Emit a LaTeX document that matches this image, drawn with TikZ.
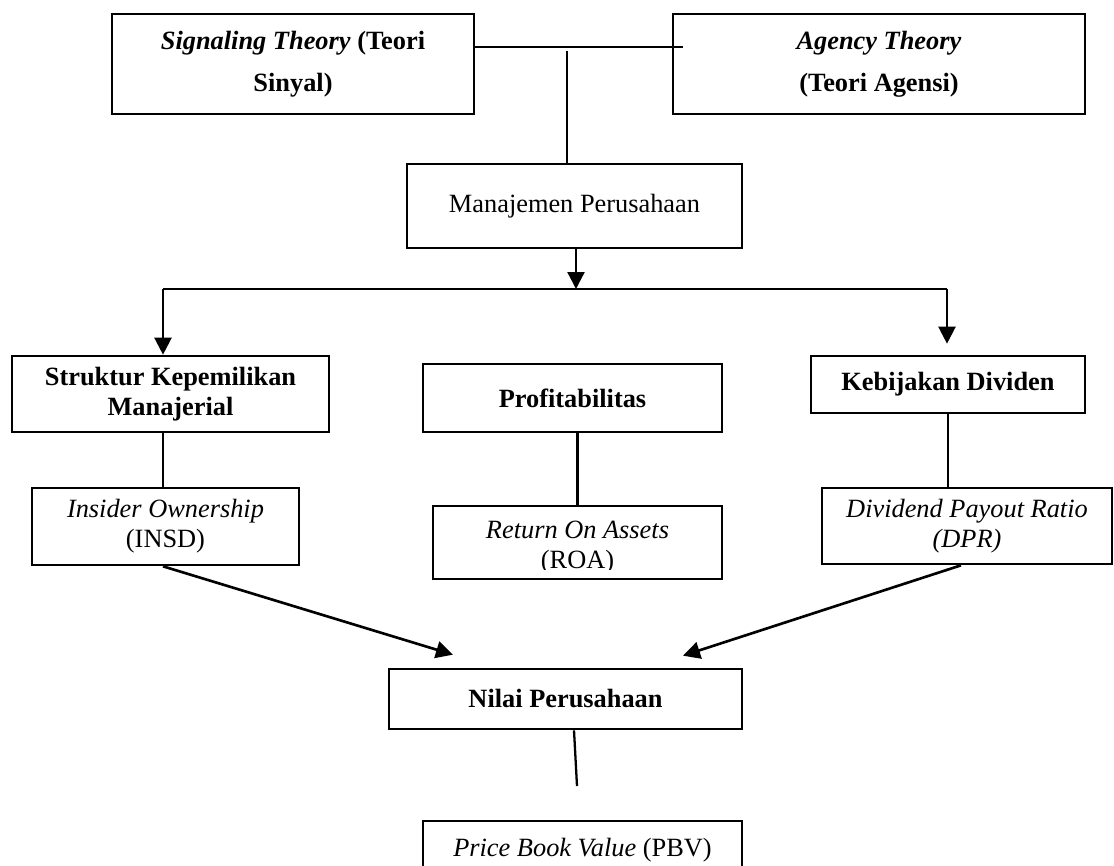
\documentclass[tikz,border=0pt]{standalone}
\usepackage{fontspec}
\setmainfont{Liberation Serif}
\usepackage{tikz}
\usetikzlibrary{arrows.meta}

\begin{document}
\begin{tikzpicture}[
	box/.style = {draw, line width = 1.5pt, align = center, inner sep = 0pt, font = \fontsize{15}{17}\selectfont},
	topbox/.style = {box, font = \fontsize{15}{24}\selectfont},
	link/.style = {line width = 1.3pt},
	arr/.style = {line width = 1.3pt, -{Triangle[length = .34cm, width = .34cm]}}
	]
	\useasboundingbox (0,0) rectangle (22.28,-17.32);
	\node[topbox, minimum width = 7.24cm, minimum height = 2cm] (sig) at (5.86,-1.28) {\textbf{\textit{Signaling Theory}} \textbf{(Teori}\\ \textbf{Sinyal)}};
	\node[topbox, minimum width = 8.24cm, minimum height = 2cm] (agen) at (17.58,-1.28) {\textbf{\textit{Agency Theory}}\\ \textbf{(Teori Agensi)}};
	\node[box, minimum width = 6.7cm, minimum height = 1.68cm] (man) at (11.49,-4.12) {Manajemen Perusahaan};
	\node[box, minimum width = 6.34cm, minimum height = 1.52cm] (struk) at (3.41,-7.88) {\textbf{Struktur Kepemilikan}\\ \textbf{Manajerial}};
	\node[box, minimum width = 5.98cm, minimum height = 1.36cm] (prof) at (11.45,-7.96) {\textbf{Profitabilitas}};
	\node[box, minimum width = 5.48cm, minimum height = 1.14cm] (kebij) at (18.96,-7.69) {\textbf{Kebijakan Dividen}};
	\node[box, minimum width = 5.34cm, minimum height = 1.54cm] (insd) at (3.31,-10.53) {\textit{Insider Ownership}\\ (INSD)};
	\node[box, minimum width = 5.78cm, minimum height = 1.46cm] (roa) at (11.55,-10.85) {};
	\node[box, minimum width = 5.8cm, minimum height = 1.52cm] (dpr) at (19.34,-10.52) {\textit{Dividend Payout Ratio}\\ \textit{(DPR)}};
	\node[box, minimum width = 7.06cm, minimum height = 1.2cm] (nilai) at (11.31,-13.98) {\textbf{Nilai Perusahaan}};
	\node[box, minimum width = 6.38cm, minimum height = 1.16cm] (pbv) at (11.65,-17) {\textit{Price Book Value} (PBV)};
	\begin{scope}
		\clip ([xshift = .1cm]roa.north west) rectangle ([xshift = -.1cm, yshift = .22cm]roa.south east);
		\node[align = center, font = \fontsize{15}{17}\selectfont] (roatext) at ([yshift = -.1cm]roa.center) {\textit{Return On Assets}\\ (ROA)};
	\end{scope}

	\coordinate (join) at (11.34,-1.02);
	\coordinate (split) at (11.52,-5.78);
	\coordinate (bl) at (3.26,-5.78);
	\coordinate (br) at (18.94,-5.78);
	\coordinate (pbvtop) at (11.54,-15.72);

	\draw[link] ([yshift = .34cm]sig.east) -- ([xshift = .22cm, yshift = .34cm]agen.west);
	\draw[link] (join) -- (join |- man.north);
	\draw[arr] (man.south -| split) -- (split);
	\draw[line width = .8pt] (bl) -- (br);
	\draw[arr] (bl) -- (bl |- struk.north);
	\draw[arr] (br) -- ([yshift = .22cm]br |- kebij.north);
	\draw[link] (bl |- struk.south) -- (bl |- insd.north);
	\draw[link] (roa.north |- prof.south) -- (roa.north);
	\draw[link] (kebij.south) -- (kebij.south |- dpr.north);
	\draw[arr, line width = 1.5pt] (bl |- insd.south) -- ([xshift = -2.25cm, yshift = .26cm]nilai.north);
	\draw[arr, line width = 1.5pt] ([xshift = -.12cm]dpr.south) -- ([xshift = 2.35cm, yshift = .24cm]nilai.north);
	\draw[link] ([xshift = .17cm]nilai.south) -- (pbvtop);
\end{tikzpicture}
\end{document}
